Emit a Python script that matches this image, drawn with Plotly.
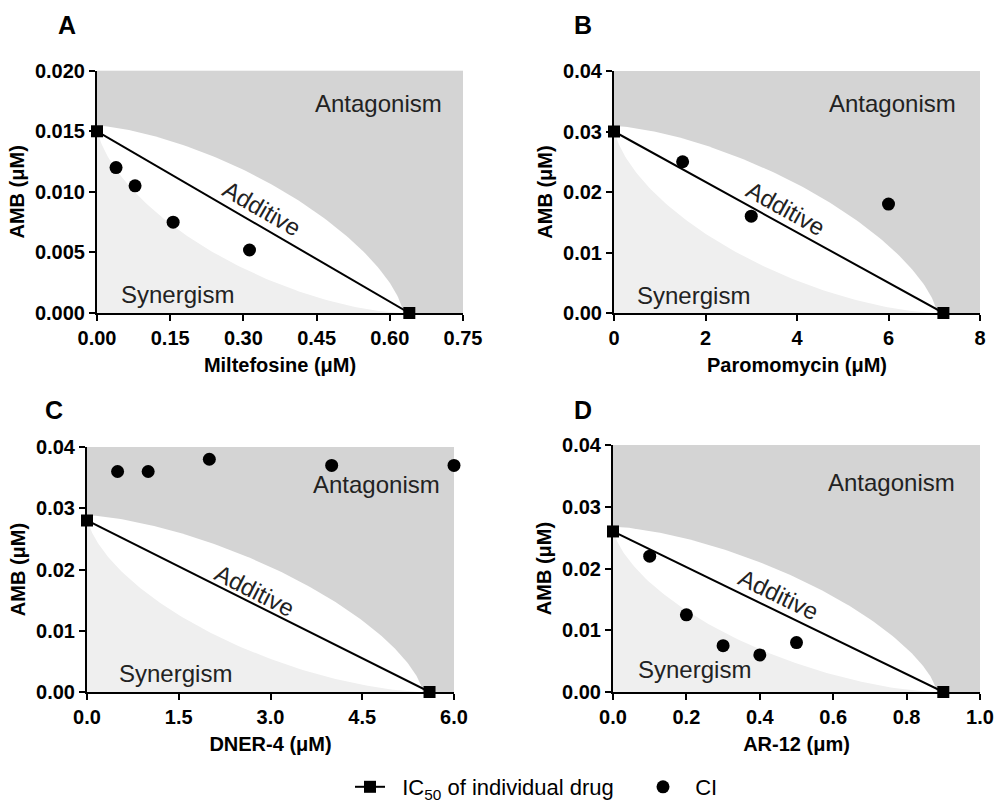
import numpy as np
import plotly.graph_objects as go

# ---------------- data ----------------
panel_letters = ["A", "B", "C", "D"]
x_titles = ["Miltefosine (μM)", "Paromomycin (μM)", "DNER-4 (μM)", "AR-12 (μm)"]
y_title = "AMB (μM)"

# IC50 of individual drugs: (drug IC50 on x, AMB IC50 on y)
ic50_x = [0.64, 7.2, 5.6, 0.9]
ic50_y = [0.015, 0.030, 0.028, 0.026]

# CI combination points
ci_x_A = [0.039, 0.078, 0.156, 0.3125]
ci_y_A = [0.0120, 0.0105, 0.0075, 0.0052]
ci_x_B = [1.5, 3.0, 6.0]
ci_y_B = [0.025, 0.016, 0.018]
ci_x_C = [0.5, 1.0, 2.0, 4.0, 6.0]
ci_y_C = [0.036, 0.036, 0.038, 0.037, 0.037]
ci_x_D = [0.1, 0.2, 0.3, 0.4, 0.5]
ci_y_D = [0.022, 0.0125, 0.0075, 0.006, 0.008]
ci_x = [ci_x_A, ci_x_B, ci_x_C, ci_x_D]
ci_y = [ci_y_A, ci_y_B, ci_y_C, ci_y_D]

# axis ticks
x_ticks = [[0, 0.15, 0.30, 0.45, 0.60, 0.75], [0, 2, 4, 6, 8],
           [0, 1.5, 3.0, 4.5, 6.0], [0, 0.2, 0.4, 0.6, 0.8, 1.0]]
x_fmt = [".2f", "d", ".1f", ".1f"]
y_ticks = [[0, 0.005, 0.010, 0.015, 0.020], [0, 0.01, 0.02, 0.03, 0.04],
           [0, 0.01, 0.02, 0.03, 0.04], [0, 0.01, 0.02, 0.03, 0.04]]
y_fmt = [".3f", ".2f", ".2f", ".2f"]

# region label positions (data coords)
antag_pos = [(0.576, 0.0173), (6.09, 0.0347), (4.735, 0.0339), (0.76, 0.0339)]
syn_pos = [(0.164, 0.0015), (1.745, 0.0029), (1.446, 0.0030), (0.222, 0.0037)]
add_pos = [(0.3375, 0.0086), (3.75, 0.0173), (2.74, 0.0166), (0.451, 0.0158)]
add_angle = [30, 29, 27, 26]

# ---------------- layout geometry (pixels, page coords) ----------------
W, H = 994, 806
px_x = [(97, 463), (614, 980), (87, 454), (613, 980)]
px_y = [(70.7, 313), (71, 313), (447, 692), (445, 692)]
letter_px = [(67, 25), (583, 25), (54, 410), (583, 410)]


def fx(px):
    return px / W


def fy(py):
    return 1 - py / H


DARK = "#d4d4d4"
LIGHT = "#efefef"

fig = go.Figure()

t = np.linspace(0, np.pi / 2, 120)
for i in range(4):
    xa = "x" if i == 0 else f"x{i+1}"
    ya = "y" if i == 0 else f"y{i+1}"
    a = ic50_x[i] * 0.98
    b = ic50_y[i] * 1.03
    p_up, p_lo = 1.5, 1.6
    # upper boundary (superellipse about origin)
    ux = a * np.cos(t) ** (2 / p_up)
    uy = b * np.sin(t) ** (2 / p_up)
    # lower boundary (superellipse about (a, b))
    lx = a - a * np.cos(t) ** (2 / p_lo)
    ly = b - b * np.sin(t) ** (2 / p_lo)
    # white (additive) region: below upper curve
    fig.add_trace(go.Scatter(x=list(ux) + [0], y=list(uy) + [0], xaxis=xa, yaxis=ya,
                             mode="lines", fill="toself", fillcolor="white",
                             line=dict(width=0), hoverinfo="skip", showlegend=False))
    # light grey (synergism) region: below lower curve
    fig.add_trace(go.Scatter(x=list(lx) + [0], y=list(ly) + [0], xaxis=xa, yaxis=ya,
                             mode="lines", fill="toself", fillcolor=LIGHT,
                             line=dict(width=0), hoverinfo="skip", showlegend=False))
    # IC50 line
    fig.add_trace(go.Scatter(x=[0, ic50_x[i]], y=[ic50_y[i], 0], xaxis=xa, yaxis=ya,
                             mode="lines+markers",
                             name="\u00a0\u00a0IC<sub>50</sub> of individual drug",
                             line=dict(color="black", width=2),
                             marker=dict(symbol="square", size=12, color="black"),
                             cliponaxis=False, showlegend=(i == 0), legend="legend"))
    # CI points
    fig.add_trace(go.Scatter(x=ci_x[i], y=ci_y[i], xaxis=xa, yaxis=ya,
                             mode="markers", name="\u00a0\u00a0CI",
                             marker=dict(symbol="circle", size=13, color="black"),
                             cliponaxis=False, showlegend=(i == 0), legend="legend2"))

    x0, x1 = px_x[i]
    y0, y1 = px_y[i]
    ax_common = dict(showgrid=False, zeroline=False, showline=True, linecolor="black",
                     linewidth=2, ticks="outside", ticklen=6, tickwidth=2, tickcolor="black",
                     tickfont=dict(family="Liberation Sans", size=20, color="black", weight="bold"),
                     fixedrange=True, automargin=False, ticklabeloverflow="allow")
    fig.layout[f"xaxis{'' if i == 0 else i+1}"] = dict(
        domain=[fx(x0), fx(x1)], anchor=ya, range=[0, x_ticks[i][-1]],
        tickvals=x_ticks[i], tickformat=x_fmt[i],
        title=dict(text=x_titles[i], standoff=10,
                   font=dict(family="Liberation Sans", size=20, color="black", weight="bold")),
        **ax_common)
    fig.layout[f"yaxis{'' if i == 0 else i+1}"] = dict(
        domain=[fy(y1), fy(y0)], anchor=xa, range=[0, y_ticks[i][-1]],
        tickvals=y_ticks[i], tickformat=y_fmt[i],
        title=dict(text=y_title, standoff=5,
                   font=dict(family="Liberation Sans", size=20, color="black", weight="bold")),
        **ax_common)

    lab_font = dict(family="Liberation Sans", size=24, color="#222222")
    fig.add_annotation(x=antag_pos[i][0], y=antag_pos[i][1], xref=xa, yref=ya,
                       text="Antagonism", showarrow=False, font=lab_font)
    fig.add_annotation(x=syn_pos[i][0], y=syn_pos[i][1], xref=xa, yref=ya,
                       text="Synergism", showarrow=False, font=lab_font)
    fig.add_annotation(x=add_pos[i][0], y=add_pos[i][1], xref=xa, yref=ya,
                       text="Additive", showarrow=False, font=lab_font,
                       textangle=add_angle[i])
    fig.add_annotation(x=fx(letter_px[i][0]), y=fy(letter_px[i][1]), xref="paper",
                       yref="paper", xanchor="center", yanchor="middle",
                       text=panel_letters[i], showarrow=False,
                       font=dict(family="Liberation Sans", size=25, color="black",
                                 weight="bold"))

leg_font = dict(family="Liberation Sans", size=22, color="black")
fig.update_layout(
    width=W, height=H, margin=dict(l=0, r=0, t=0, b=0, autoexpand=False),
    paper_bgcolor="white", plot_bgcolor=DARK,
    legend=dict(orientation="h", x=fx(350), xanchor="left", y=fy(787), yanchor="middle",
                font=leg_font, itemwidth=30, bgcolor="rgba(0,0,0,0)"),
    legend2=dict(orientation="h", x=fx(643), xanchor="left", y=fy(787), yanchor="middle",
                 font=leg_font, itemwidth=30, bgcolor="rgba(0,0,0,0)"),
)

fig.write_html(
    "out.html",
    config={"displayModeBar": False},
    post_script="document.body.style.margin='0';document.body.style.overflow='hidden';",
)
